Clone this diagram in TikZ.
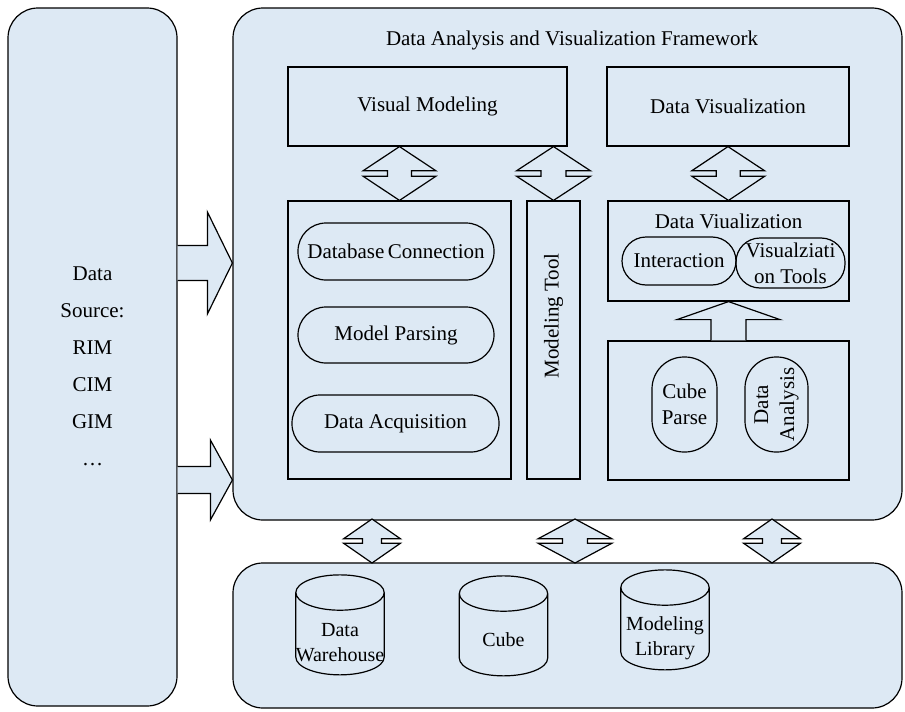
\documentclass[tikz,border=0pt]{standalone}
\usepackage{fontspec}
\setmainfont{Liberation Serif}
\usetikzlibrary{calc,shapes.geometric}
\definecolor{paleblue}{RGB}{221,233,244}

% double block arrow: top point, bottom point, half width, shaft half width
\newcommand{\udblock}[4]{%
\filldraw[block arrow] (#1) -- ($(#1)!.45!(#2)+(#3,0)$) -- ($(#1)!.45!(#2)+(#4,0)$) -- ($(#1)!.55!(#2)+(#4,0)$) -- ($(#1)!.55!(#2)+(#3,0)$) -- (#2) -- ($(#1)!.55!(#2)+(-#3,0)$) -- ($(#1)!.55!(#2)+(-#4,0)$) -- ($(#1)!.45!(#2)+(-#4,0)$) -- ($(#1)!.45!(#2)+(-#3,0)$) -- cycle;}
% right block arrow: start, tip, head half height, shaft half height, head length
\newcommand{\rtblock}[5]{%
\filldraw[block arrow] ($(#1)+(0,-#4)$) -- ($(#2)+(-#5,-#4)$) -- ($(#2)+(-#5,-#3)$) -- (#2) -- ($(#2)+(-#5,#3)$) -- ($(#2)+(-#5,#4)$) -- ($(#1)+(0,#4)$);}
% up block arrow: start, tip, head half width, shaft half width, head length
\newcommand{\upblock}[5]{%
\filldraw[block arrow] ($(#1)+(-#4,0)$) -- ($(#2)+(-#4,#5)$) -- ($(#2)+(-#3,#5)$) -- (#2) -- ($(#2)+(#3,#5)$) -- ($(#2)+(#4,#5)$) -- ($(#1)+(#4,0)$);}

\begin{document}
\begin{tikzpicture}[x=0.5pt, y=-0.5pt, line width=0.6pt,
frame box/.style={draw,fill=paleblue,rounded corners=15pt,inner sep=0pt},
box/.style={draw,fill=paleblue,inner sep=0pt},
pill/.style={draw,rounded corners=#1,inner sep=0pt,align=center},
db node/.style={cylinder,shape border rotate=90,draw,aspect=0.4,minimum width=42pt,minimum height=50pt,align=center,inner sep=0pt,font=\fontsize{10}{12.5}\selectfont},
db text/.style={align=center,font=\fontsize{10}{12.5}\selectfont},
block arrow/.style={fill=paleblue,draw,line join=miter}]
\useasboundingbox (0,0) rectangle (905,712);
\begin{scope}[every node/.style={font=\fontsize{10.5}{13}\selectfont}]
\node[frame box, minimum width=84.5pt, minimum height=349pt] (src) at (92.5,357) {};
\node[frame box, minimum width=334.5pt, minimum height=256pt] (frame) at (567.5,264) {};
\node[frame box, minimum width=334.5pt, minimum height=72.5pt] (store) at (567.5,635.5) {};
\node[align=center, font=\fontsize{10.5}{18.5}\selectfont] (srctext) at (92.5,366) {Data\\Source:\\RIM\\CIM\\GIM\\\dots};
\node (title) at (572,40) {Data Analysis and Visualization Framework};
\node[box, minimum width=139.5pt, minimum height=39.5pt] (vm) at (427.5,106.5) {Visual Modeling};
\node[box, minimum width=121pt, minimum height=39.5pt] (dv) at (728,106.5) {Data Visualization};
\node[box, minimum width=111.5pt, minimum height=139pt] (dbox) at (399.5,340) {};
\node[box, minimum width=26.5pt, minimum height=139pt] (mtool) at (553.5,340) {};
\node[rotate=90] (mtlabel) at (553.5,316) {Modeling Tool};
\node[box, minimum width=120.5pt, minimum height=50pt] (dviz) at (728.5,251) {};
\node (dviztitle) at (728.5,221) {Data Viualization};
\node[box, minimum width=120.5pt, minimum height=69.5pt] (anabox) at (728.5,410.5) {};
\node[pill=14pt, minimum width=98pt, minimum height=28.5pt] (dbc) at (396,251.5) {Database\,Connection};
\node[pill=14pt, minimum width=98pt, minimum height=28pt] (mp) at (396,335) {Model Parsing};
\node[pill=14pt, minimum width=103.5pt, minimum height=28.5pt] (da) at (395.5,423.5) {Data Acquisition};
\node[pill=12pt, minimum width=57pt, minimum height=24pt] (inter) at (679,261) {Interaction};
\node[pill=12pt, minimum width=54.5pt, minimum height=25pt] (vtools) at (790.5,263) {Visualziati\\on Tools};
\node[pill=16pt, minimum width=32.5pt, minimum height=47.5pt] (cparse) at (684.5,404.5) {Cube\\Parse};
\node[pill=15.5pt, rotate=90, minimum width=47.5pt, minimum height=31.5pt] (dana) at (776.5,404.5) {Data\\Analysis};
\node[db node] (dw) at (340,634) {\phantom{Data}\\\phantom{Warehouse}};
\node[db node] (cube) at (503.5,635) {\phantom{Data}\\\phantom{Warehouse}};
\node[db node] (mlib) at (665,629) {\phantom{Data}\\\phantom{Warehouse}};
\node[db text] (dwtext) at (340,643) {Data\\Warehouse};
\node[db text] (cubetext) at (503.5,640) {Cube};
\node[db text] (mlibtext) at (665,638) {Modeling\\Library};
\end{scope}
\begin{scope}
\coordinate (s1) at (src.east |- 0,263);
\coordinate (f1) at (frame.west |- 0,263);
\coordinate (s2) at (src.east |- 0,480);
\coordinate (f2) at (frame.west |- 0,480);
\coordinate (b1t) at (372,519);
\coordinate (b1b) at (372,563);
\coordinate (b2t) at (575,519);
\coordinate (b2b) at (575,563);
\coordinate (b3t) at (772,519);
\coordinate (b3b) at (772,563);
\rtblock{s1}{f1}{51}{17.5}{25}
\rtblock{s2}{f2}{40}{13.5}{22}
\udblock{dbox.north |- vm.south}{dbox.north}{36.5}{12}
\udblock{mtool.north |- vm.south}{mtool.north}{37}{12.5}
\udblock{dv.south}{dviz.north}{36.5}{12}
\upblock{anabox.north}{dviz.south}{51.5}{17.5}{18}
\udblock{b1t}{b1b}{28.5}{9.5}
\udblock{b2t}{b2b}{37}{12.5}
\udblock{b3t}{b3b}{28.5}{9.5}
\end{scope}
\end{tikzpicture}
\end{document}
